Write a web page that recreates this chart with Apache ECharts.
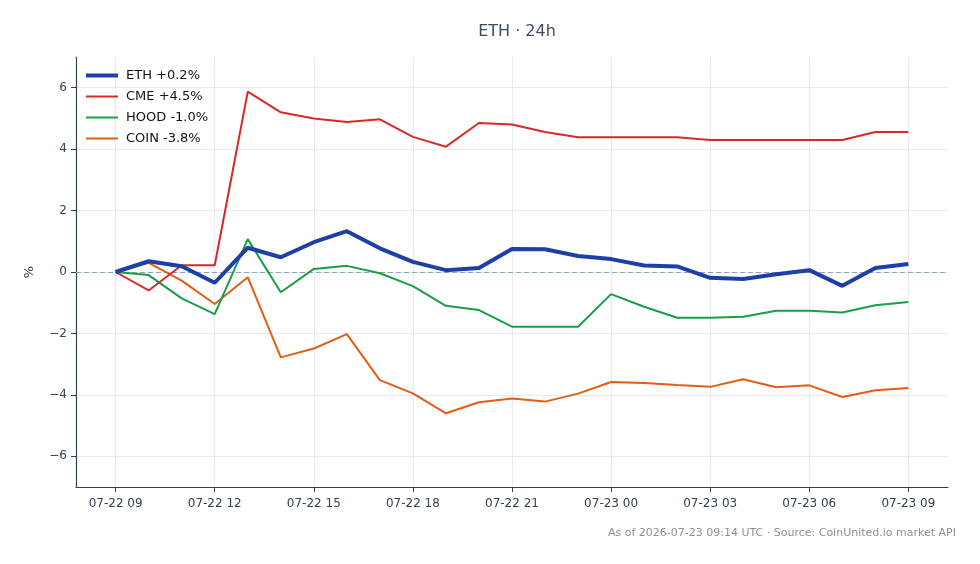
<!DOCTYPE html>
<html>
<head>
<meta charset="utf-8">
<title>ETH · 24h</title>
<script src="https://cdn.jsdelivr.net/npm/echarts@6/dist/echarts.min.js"></script>
<style>
  html, body { margin: 0; padding: 0; background: #fff; }
  #chart { width: 980px; height: 564px; }
</style>
</head>
<body>
<div id="chart"></div>
<script>
// hourly points, 07-22 09:00 -> 07-23 09:00 (UTC)
const hours = [
  '07-22 09', '07-22 10', '07-22 11', '07-22 12', '07-22 13', '07-22 14', '07-22 15',
  '07-22 16', '07-22 17', '07-22 18', '07-22 19', '07-22 20', '07-22 21', '07-22 22',
  '07-22 23', '07-23 00', '07-23 01', '07-23 02', '07-23 03', '07-23 04', '07-23 05',
  '07-23 06', '07-23 07', '07-23 08', '07-23 09'
]
const tickHours = [0, 3, 6, 9, 12, 15, 18, 21, 24]
const yTicks = [-6, -4, -2, 0, 2, 4, 6]

const seriesNames = ['ETH +0.2%', 'CME +4.5%', 'HOOD -1.0%', 'COIN -3.8%']
const seriesColors = ['#1e3fa8', '#d62a2a', '#1a9e45', '#e35d12']

// % change vs. start
const eth = [0, 0.35, 0.19, -0.35, 0.79, 0.48, 0.97, 1.33, 0.77, 0.33, 0.06, 0.13, 0.75,
  0.74, 0.52, 0.42, 0.21, 0.18, -0.19, -0.23, -0.07, 0.06, -0.45, 0.13, 0.26]
const cme = [0, -0.6, 0.22, 0.22, 5.87, 5.2, 5.0, 4.88, 4.97, 4.4, 4.08, 4.85, 4.8,
  4.56, 4.39, 4.39, 4.39, 4.39, 4.3, 4.3, 4.3, 4.3, 4.3, 4.56, 4.56]
const hood = [0, -0.1, -0.86, -1.37, 1.07, -0.66, 0.1, 0.2, -0.04, -0.46, -1.1, -1.24, -1.78,
  -1.78, -1.78, -0.72, -1.13, -1.49, -1.49, -1.46, -1.26, -1.26, -1.32, -1.08, -0.98]
const coin = [0, 0.3, -0.28, -1.04, -0.17, -2.78, -2.49, -2.02, -3.52, -3.95, -4.6, -4.24, -4.12,
  -4.22, -3.96, -3.58, -3.61, -3.68, -3.74, -3.49, -3.75, -3.69, -4.07, -3.85, -3.78]

const seriesData = [eth, cme, hood, coin]
const lineWidths = [4, 2, 2, 2]

const chart = echarts.init(document.getElementById('chart'))

const axisColor = '#334155'
const gridColor = '#e8ebf0'
const font = 'DejaVu Sans'

const series = seriesData.map((vals, k) => ({
  name: seriesNames[k],
  type: 'line',
  data: vals.map((v, i) => [i, v]),
  symbol: 'none',
  z: 10 - k,
  lineStyle: { width: lineWidths[k], color: seriesColors[k] },
  itemStyle: { color: seriesColors[k] }
}))
// zero baseline
series[0].markLine = {
  silent: true,
  symbol: 'none',
  label: { show: false },
  lineStyle: { color: '#94a0b8', type: [5, 3], width: 1 },
  data: [{ yAxis: 0 }],
  z: 1
}

const option = {
  backgroundColor: '#fff',
  animation: false,
  textStyle: { fontFamily: font },
  title: {
    text: 'ETH · 24h',
    left: 512,
    textAlign: 'center',
    top: 19,
    textStyle: { fontFamily: font, fontSize: 16, fontWeight: 'normal', color: '#3e4c63' }
  },
  graphic: [{
    type: 'text',
    right: 24,
    top: 528,
    style: {
      text: 'As of 2026-07-23 09:14 UTC · Source: CoinUnited.io market API',
      font: '11px "DejaVu Sans"',
      fill: '#8b919b'
    }
  }],
  legend: {
    orient: 'vertical',
    left: 79,
    top: 64,
    itemWidth: 32,
    itemHeight: 10,
    itemGap: 8,
    itemStyle: { opacity: 0 },
    textStyle: { fontFamily: font, fontSize: 13, color: '#111', padding: [0, 0, 0, 3] },
    data: seriesNames.map((n, k) => ({ name: n, lineStyle: { width: lineWidths[k] } }))
  },
  grid: { left: 76, right: 32, top: 57, bottom: 77 },
  xAxis: {
    type: 'value',
    min: -1.2,
    max: 25.2,
    axisLine: { onZero: false, lineStyle: { color: axisColor, width: 1.2 } },
    axisTick: { show: true, customValues: tickHours, length: 5, lineStyle: { color: axisColor } },
    axisLabel: {
      customValues: tickHours,
      formatter: v => hours[Math.round(v)],
      color: axisColor,
      fontSize: 12,
      margin: 11
    },
    splitLine: { show: true, lineStyle: { color: gridColor, width: 1 } }
  },
  yAxis: {
    type: 'value',
    min: -7,
    max: 7,
    name: '%',
    nameLocation: 'middle',
    nameGap: 40,
    nameTextStyle: { color: axisColor, fontSize: 13, fontFamily: font },
    axisLine: { show: true, onZero: false, lineStyle: { color: axisColor, width: 1.2 } },
    axisTick: { show: true, customValues: yTicks, length: 5, lineStyle: { color: axisColor } },
    axisLabel: {
      customValues: yTicks,
      formatter: v => (v < 0 ? '\u2212' + Math.abs(v) : String(v)),
      color: axisColor,
      fontSize: 12,
      margin: 9
    },
    splitLine: { show: true, lineStyle: { color: gridColor, width: 1 } }
  },
  series: series
}

chart.setOption(option)
</script>
</body>
</html>
